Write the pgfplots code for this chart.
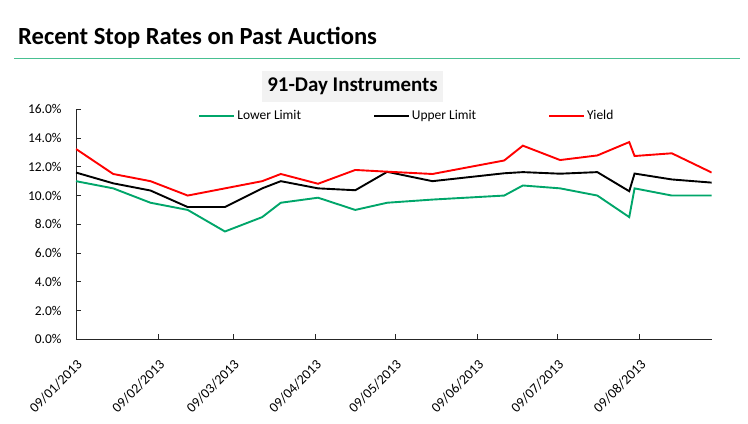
\documentclass[border=0pt]{standalone}
\usepackage{pgfplots}
\pgfplotsset{compat=1.18}
\usepackage{fontspec}
\setmainfont{Carlito}
\definecolor{lowc}{RGB}{0,166,106}
\definecolor{rulec}{RGB}{72,192,145}
\definecolor{boxc}{RGB}{242,242,242}
\begin{document}
\begin{tikzpicture}
\path[use as bounding box] (-76bp,-84.7bp) rectangle (672bp,339.3bp);
\node[anchor=base west, inner sep=0pt, font=\fontsize{24.7}{28}\selectfont\bfseries] at (-58bp,294.8bp) {Recent Stop Rates on Past Auctions};
\draw[rulec, line width=1.3bp] (-61.7bp,281bp) -- (663.5bp,281bp);
\node[fill=boxc, minimum width=181.6bp, minimum height=31bp, inner sep=0pt, font=\fontsize{21}{24}\selectfont\bfseries] at (276.5bp,253.1bp) {91-Day Instruments};
\begin{axis}[
  at={(0bp,0bp)}, anchor=south west,
  scale only axis, width=635.7bp, height=230bp,
  xmin=0, xmax=239, ymin=0, ymax=16,
  axis lines=left, axis line style={-, line width=0.8bp, black!85},
  tick align=inside, major tick length=5bp, tick style={black!85, line width=0.8bp},
  xtick={0,31,59,90,120,151,181,212},
  xticklabels={09/01/2013,09/02/2013,09/03/2013,09/04/2013,09/05/2013,09/06/2013,09/07/2013,09/08/2013},
  ytick={0,2,4,6,8,10,12,14,16},
  yticklabel={\pgfmathprintnumber[fixed,fixed zerofill,precision=1,assume math mode=true]{\tick}\%},
  xticklabel style={font=\fontsize{14}{16}\selectfont, yshift=-18bp, rotate=45, anchor=north east, inner sep=1bp},
  yticklabel style={font=\fontsize{13.5}{15}\selectfont, xshift=-11bp},
  legend style={at={(0.1924,0.971)}, anchor=west, draw=none, fill=none, inner sep=0pt,
    font=\fontsize{13.5}{15}\selectfont,
    /tikz/every even column/.append style={column sep=70bp}},
  legend columns=3,
  legend image code/.code={\draw[#1] (0bp,0bp) -- (35bp,0bp);},
  every axis plot/.append style={line width=1.9bp},
]
\addplot[lowc] coordinates {
(0,11.0) (14,10.5) (28,9.5) (42,9.0) (56,7.5) (70,8.5) (77,9.5) (91,9.85) (105,9.0) (117,9.5)
(134,9.72) (161,10.0) (168,10.7) (182,10.5) (196,10.0) (208,8.5) (210,10.5) (224,10.0) (239,10.0)};
\addlegendentry{Lower Limit}
\addplot[black] coordinates {
(0,11.6) (14,10.85) (28,10.35) (42,9.2) (56,9.2) (70,10.5) (77,11.0) (91,10.5) (105,10.37) (117,11.65)
(134,11.0) (161,11.55) (168,11.63) (182,11.52) (196,11.63) (208,10.3) (210,11.53) (224,11.12) (239,10.9)};
\addlegendentry{Upper Limit}
\addplot[red] coordinates {
(0,13.24) (14,11.5) (28,11.0) (42,10.0) (56,10.5) (70,11.0) (77,11.5) (91,10.82) (105,11.78) (117,11.66)
(134,11.5) (161,12.44) (168,13.47) (182,12.47) (196,12.79) (208,13.72) (210,12.75) (224,12.94) (239,11.6)};
\addlegendentry{Yield}
\end{axis}
\end{tikzpicture}
\end{document}
